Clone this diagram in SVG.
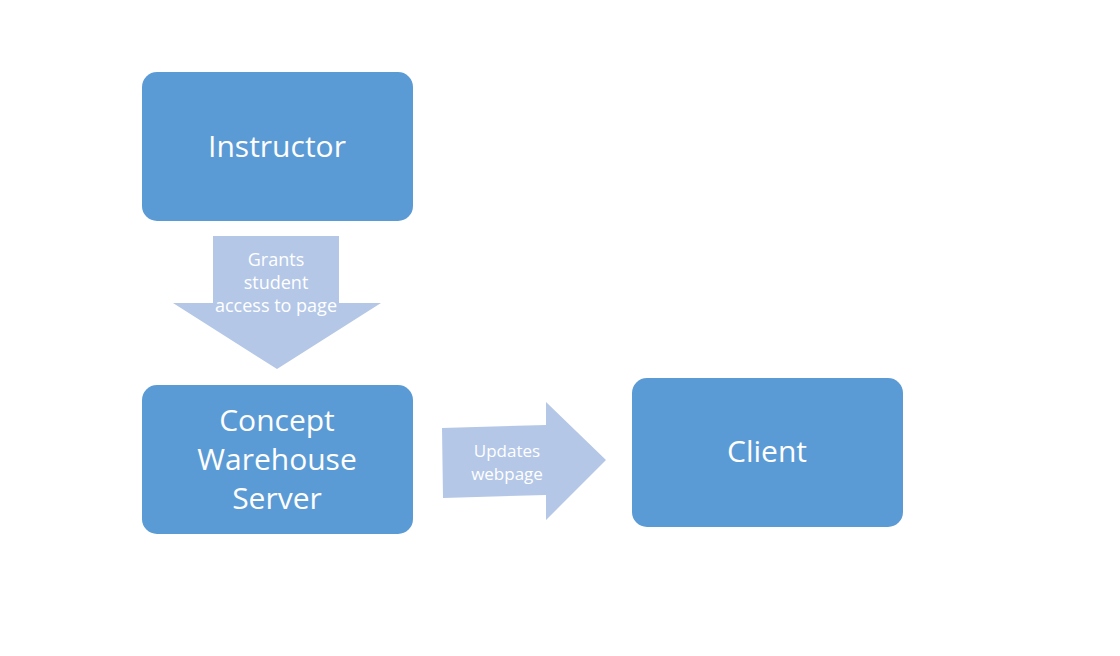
<svg xmlns="http://www.w3.org/2000/svg" width="1120" height="656" viewBox="0 0 1120 656">
<style>
.box{fill:#5B9BD5;}
.arrow{fill:#B4C7E7;}
.t{font-family:"Open Sans","Noto Sans",sans-serif;fill:#ffffff;text-anchor:middle;}
.big{font-size:30px;}
.small{font-size:18px;}
.small2{font-size:17px;}
</style>
<rect width="1120" height="656" fill="#ffffff"/>
<g id="connectors">
<g id="grants-arrow">
<polygon class="arrow" points="213,236 339,236 339,303 381,303 277,369 173,303 213,303"/>
<text class="t small" x="276" y="266">Grants</text>
<text class="t small" x="276" y="289">student</text>
<text class="t small" x="276" y="312">access to page</text>
</g>
<g id="updates-arrow">
<polygon class="arrow" points="442,428 546,425 546,402 606,460 546,520 546,495 443,498"/>
<text class="t small2" x="507" y="457">Updates</text>
<text class="t small2" x="507" y="480">webpage</text>
</g>
</g>
<g id="instructor">
<rect class="box" x="142" y="72" width="271" height="149" rx="15"/>
<text class="t big" x="277" y="157">Instructor</text>
</g>
<g id="server">
<rect class="box" x="142" y="385" width="271" height="149" rx="15"/>
<text class="t big" x="277" y="431">Concept</text>
<text class="t big" x="277" y="470">Warehouse</text>
<text class="t big" x="277" y="509">Server</text>
</g>
<g id="client">
<rect class="box" x="632" y="378" width="271" height="149" rx="15"/>
<text class="t big" x="767" y="462">Client</text>
</g>
</svg>
